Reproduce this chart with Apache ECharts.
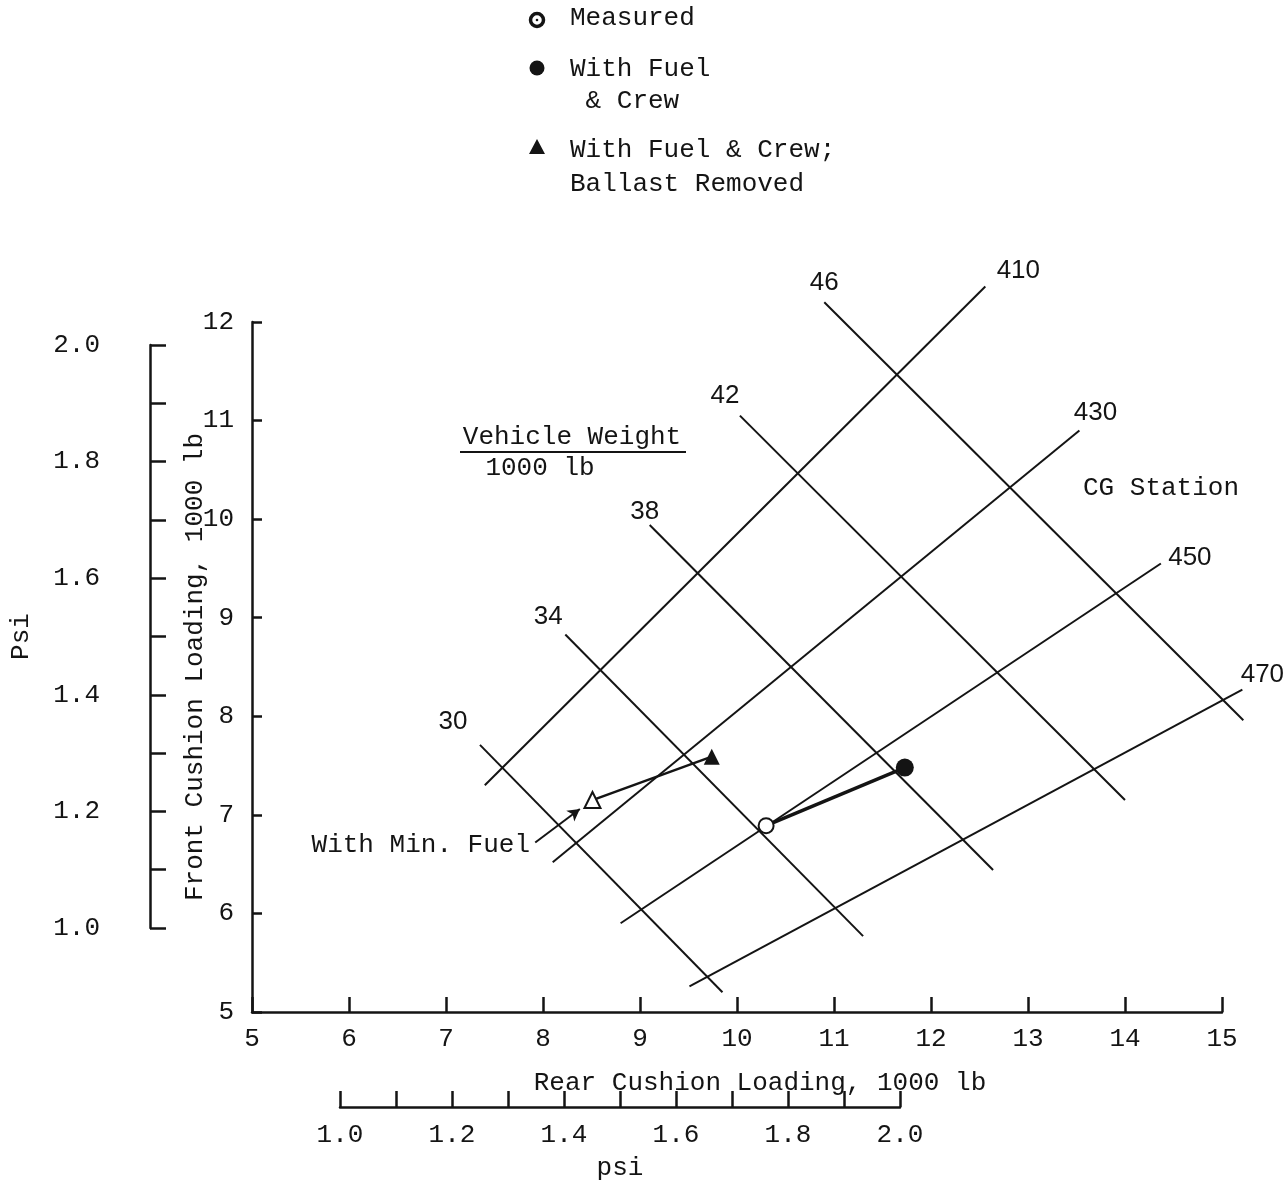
<!DOCTYPE html>
<html>
<head>
<meta charset="utf-8">
<script src="https://cdn.jsdelivr.net/npm/echarts@6/dist/echarts.min.js"></script>
<style>
  html, body { margin: 0; padding: 0; background: #ffffff; }
  #chart { width: 1284px; height: 1184px; }
</style>
</head>
<body>
<div id="chart"></div>
<script>
// ---- Axes -----------------------------------------------------------
const rearLoadTicks = [5, 6, 7, 8, 9, 10, 11, 12, 13, 14, 15];      // 1000 lb
const frontLoadTicks = [5, 6, 7, 8, 9, 10, 11, 12];                // 1000 lb
const psiTicks = [1.0, 1.1, 1.2, 1.3, 1.4, 1.5, 1.6, 1.7, 1.8, 1.9, 2.0];
const psiLabelled = ['1.0', '1.2', '1.4', '1.6', '1.8', '2.0'];

// ---- Constant vehicle weight lines (label = weight, 1000 lb) ---------
const weightLabels = ['30', '34', '38', '42', '46'];
const weightRearA  = [7.35, 8.23, 9.10, 10.03, 10.90];
const weightFrontA = [7.71, 8.83, 9.94, 11.05, 12.20];
const weightRearB  = [9.85, 11.30, 12.64, 14.00, 15.22];
const weightFrontB = [5.20, 5.77, 6.44, 7.15, 7.96];

// ---- Constant CG station lines --------------------------------------
const cgLabels = ['410', '430', '450', '470'];
const cgRearA  = [7.40, 8.10, 8.80, 9.51];
const cgFrontA = [7.30, 6.52, 5.90, 5.26];
const cgRearB  = [12.56, 13.53, 14.37, 15.21];
const cgFrontB = [12.36, 10.90, 9.55, 8.27];

// ---- Loading conditions ---------------------------------------------
const conditionNames = ['Measured', 'With Fuel & Crew', 'With Fuel & Crew; Ballast Removed', 'With Min. Fuel'];
const conditionRear  = [10.30, 11.73, 9.74, 8.51];
const conditionFront = [6.89, 7.48, 7.59, 7.15];

// leader from the "With Min. Fuel" note to its point
const leaderRear  = [7.92, 8.38];
const leaderFront = [6.72, 7.06];

// ---- Styling ----------------------------------------------------------
const INK = '#141414';
const TYPE = '"Liberation Mono", "DejaVu Sans Mono", monospace';
const HAND = '"Liberation Sans", "DejaVu Sans", sans-serif';
// label centre relative to the labelled end of each line, in px
const weightNudge = [[-27, -23], [-17, -18], [-5, -13], [-15, -20], [0, -19]];
const cgNudge = [[33, -16], [16, -18], [29, -6], [20, -15]];

// Straight guide lines drawn through the cartesian scales; not clipped to the grid.
function guideSeries(name, rA, fA, rB, fB, labels, nudges, labelAtEnd) {
  return {
    type: 'custom', name: name,
    xAxisIndex: 0, yAxisIndex: 0,
    clip: false, silent: true, z: 2,
    encode: { x: [0, 2], y: [1, 3] },
    data: labels.map((l, i) => [rA[i], fA[i], rB[i], fB[i]]),
    renderItem: (params, api) => {
      const i = params.dataIndex;
      const a = api.coord([api.value(0), api.value(1)]);
      const b = api.coord([api.value(2), api.value(3)]);
      const anchor = labelAtEnd ? b : a;
      return {
        type: 'group',
        children: [
          { type: 'line', shape: { x1: a[0], y1: a[1], x2: b[0], y2: b[1] },
            style: { stroke: INK, lineWidth: 2 } },
          { type: 'text', x: anchor[0] + nudges[i][0], y: anchor[1] + nudges[i][1],
            style: { text: labels[i], font: '26px ' + HAND, fill: INK, align: 'center', verticalAlign: 'middle' } }
        ]
      };
    }
  };
}

const series = [
  guideSeries('Vehicle weight', weightRearA, weightFrontA, weightRearB, weightFrontB, weightLabels, weightNudge, false),
  guideSeries('CG station', cgRearA, cgFrontA, cgRearB, cgFrontB, cgLabels, cgNudge, true)
];

// shift lines between conditions
series.push({
  type: 'line', data: [[conditionRear[0], conditionFront[0]], [conditionRear[1], conditionFront[1]]],
  showSymbol: false, lineStyle: { color: INK, width: 3.5 }, silent: true, z: 3
});
series.push({
  type: 'line', data: [[conditionRear[3], conditionFront[3]], [conditionRear[2], conditionFront[2]]],
  showSymbol: false, lineStyle: { color: INK, width: 2.5 }, silent: true, z: 3,
  markLine: {
    silent: true, symbol: ['none', 'arrow'], symbolSize: [10, 12],
    lineStyle: { color: INK, width: 2, type: 'solid' },
    label: { show: false },
    data: [[{ coord: [leaderRear[0], leaderFront[0]] }, { coord: [leaderRear[1], leaderFront[1]] }]]
  }
});

// condition markers
const markerStyle = [
  { symbol: 'emptyCircle', symbolSize: 15, itemStyle: { color: INK, borderColor: INK, borderWidth: 2, opacity: 1 } },
  { symbol: 'circle', symbolSize: 18, itemStyle: { color: INK, opacity: 1 } },
  { symbol: 'triangle', symbolSize: 16, itemStyle: { color: INK, opacity: 1 } },
  { symbol: 'emptyTriangle', symbolSize: 16, itemStyle: { color: INK, borderColor: INK, borderWidth: 2, opacity: 1 } }
];
conditionNames.forEach((name, i) => {
  series.push(Object.assign({
    type: 'scatter', name: name,
    data: [[conditionRear[i], conditionFront[i]]],
    z: 5, silent: true
  }, markerStyle[i]));
});

const axisInk = { lineStyle: { color: INK, width: 2.5 } };
const tickInk = { color: INK, width: 2.5 };
const psiMin = psiTicks[0], psiMax = psiTicks[psiTicks.length - 1];
const psiFmt = v => { const s = v.toFixed(1); return psiLabelled.indexOf(s) >= 0 ? s : ''; };

const option = {
  animation: false,
  backgroundColor: '#ffffff',
  grid: [
    { left: 252, right: 62, top: 322, bottom: 172 },
    { left: 150, top: 345, width: 10, height: 583 },
    { left: 340, width: 560, top: 1097, height: 10 }
  ],
  xAxis: [
    {
      gridIndex: 0, type: 'value',
      min: rearLoadTicks[0], max: rearLoadTicks[rearLoadTicks.length - 1], interval: 1,
      name: 'Rear Cushion Loading, 1000 lb', nameLocation: 'middle', nameGap: 58, nameMoveOverlap: false,
      nameTextStyle: { fontFamily: TYPE, fontSize: 26, color: INK, padding: [0, 0, 0, 46] },
      axisLine: axisInk,
      axisTick: { inside: true, length: 15, lineStyle: tickInk },
      axisLabel: { fontFamily: TYPE, fontSize: 26, color: INK, margin: 14 },
      splitLine: { show: false }
    },
    { gridIndex: 1, type: 'value', show: false },
    {
      gridIndex: 2, type: 'value', position: 'bottom',
      min: psiMin, max: psiMax, interval: 0.1,
      name: 'psi', nameLocation: 'middle', nameGap: 48, nameMoveOverlap: false,
      nameTextStyle: { fontFamily: TYPE, fontSize: 26, color: INK },
      axisLine: axisInk,
      axisTick: { inside: true, length: 16, lineStyle: tickInk },
      axisLabel: { fontFamily: TYPE, fontSize: 26, color: INK, margin: 15, formatter: psiFmt, showMinLabel: true, showMaxLabel: true },
      splitLine: { show: false }
    }
  ],
  yAxis: [
    {
      gridIndex: 0, type: 'value',
      min: frontLoadTicks[0], max: frontLoadTicks[frontLoadTicks.length - 1], interval: 1,
      name: 'Front Cushion Loading, 1000 lb', nameLocation: 'middle', nameGap: 44, nameMoveOverlap: false,
      nameTextStyle: { fontFamily: TYPE, fontSize: 26, color: INK },
      axisLine: axisInk,
      axisTick: { inside: true, length: 10, lineStyle: tickInk },
      axisLabel: { fontFamily: TYPE, fontSize: 26, color: INK, margin: 18 },
      splitLine: { show: false }
    },
    {
      gridIndex: 1, type: 'value', position: 'left',
      min: psiMin, max: psiMax, interval: 0.1,
      name: 'Psi', nameLocation: 'middle', nameGap: 116, nameMoveOverlap: false,
      nameTextStyle: { fontFamily: TYPE, fontSize: 26, color: INK },
      axisLine: axisInk,
      axisTick: { inside: true, length: 16, lineStyle: tickInk },
      axisLabel: { fontFamily: TYPE, fontSize: 26, color: INK, margin: 50, formatter: psiFmt, showMinLabel: true, showMaxLabel: true },
      splitLine: { show: false }
    },
    { gridIndex: 2, type: 'value', show: false }
  ],
  series: series,
  graphic: [
    // key
    { type: 'circle', shape: { cx: 537, cy: 20, r: 6.5 }, style: { fill: '#ffffff', stroke: INK, lineWidth: 3.5 } },
    { type: 'circle', shape: { cx: 537, cy: 20, r: 1.3 }, style: { fill: INK } },
    { type: 'text', left: 570, top: 5, style: { text: 'Measured', font: '26px ' + TYPE, fill: INK } },
    { type: 'circle', shape: { cx: 537, cy: 68, r: 7.5 }, style: { fill: INK } },
    { type: 'text', left: 570, top: 53, style: { text: 'With Fuel\n & Crew', font: '26px ' + TYPE, fill: INK, lineHeight: 32 } },
    { type: 'polygon', shape: { points: [[537, 139], [545, 154], [529, 154]] }, style: { fill: INK } },
    { type: 'text', left: 570, top: 133, style: { text: 'With Fuel & Crew;\nBallast Removed', font: '26px ' + TYPE, fill: INK, lineHeight: 34 } },
    // notes on the chart
    { type: 'text', x: 572, y: 437, style: { text: 'Vehicle Weight', font: '26px ' + TYPE, fill: INK, align: 'center', verticalAlign: 'middle' } },
    { type: 'line', shape: { x1: 460, y1: 452, x2: 686, y2: 452 }, style: { stroke: INK, lineWidth: 2 } },
    { type: 'text', x: 540, y: 468, style: { text: '1000 lb', font: '26px ' + TYPE, fill: INK, align: 'center', verticalAlign: 'middle' } },
    { type: 'text', x: 1083, y: 488, style: { text: 'CG Station', font: '26px ' + TYPE, fill: INK, align: 'left', verticalAlign: 'middle' } },
    { type: 'text', x: 530, y: 845, style: { text: 'With Min. Fuel', font: '26px ' + TYPE, fill: INK, align: 'right', verticalAlign: 'middle' } }
  ]
};

const chart = echarts.init(document.getElementById('chart'), null, { renderer: 'canvas' });
chart.setOption(option);
</script>
</body>
</html>
